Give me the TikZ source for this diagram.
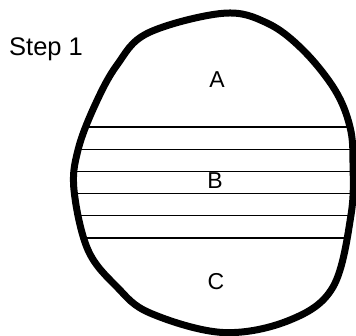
\documentclass[tikz,border=0pt]{standalone}
\usepackage{fontspec}
\setmainfont{Liberation Sans}
\begin{document}
\begin{tikzpicture}[x=1pt,y=-1pt,
  blob/.style={line width=7pt,line join=round},
  thickrule/.style={line width=1.5pt},
  thinrule/.style={line width=0.9pt},
  lbl/.style={font=\fontsize{23}{26}\selectfont,inner sep=0pt}]
\useasboundingbox (0,0) rectangle (356,336);
\def\blobpath{plot[smooth cycle,tension=0.6] coordinates {(223,13.3) (267,23) (303,50) (335,90) (350,127) (353,163) (351,215) (333,287) (290,320) (223,332.5) (150,313) (117,287) (88,250) (74,190) (78,150) (95,105) (117,65) (148,33)}}
\begin{scope}
  \clip \blobpath;
  \draw[thickrule] (0,127) -- (356,127);
  \draw[thinrule] (0,149) -- (356,149);
  \draw[thinrule] (0,171) -- (356,171);
  \draw[thinrule] (0,193) -- (356,193);
  \draw[thinrule] (0,215) -- (356,215);
  \draw[thickrule] (0,238) -- (356,238);
\end{scope}
\draw[blob] \blobpath;
\node[lbl] (la) at (217,80) {A};
\node[lbl] (lb) at (215,181) {B};
\node[lbl] (lc) at (216,282) {C};
\node[lbl,font=\fontsize{25.5}{28}\selectfont,anchor=base west] (stepl) at (9,56) {Step 1};
\end{tikzpicture}
\end{document}
